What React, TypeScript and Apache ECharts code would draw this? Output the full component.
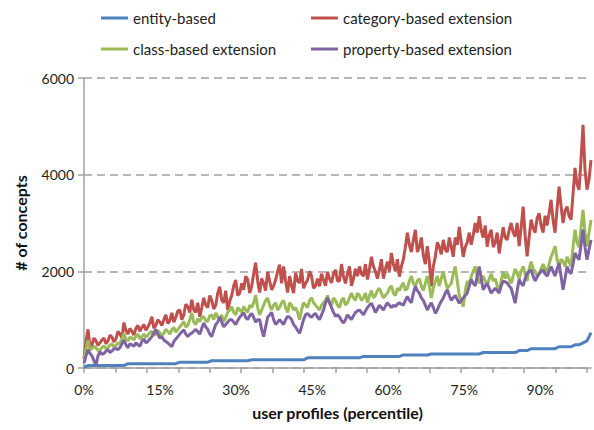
import React, { useEffect, useRef } from "react";
import * as echarts from "echarts";

const seriesNames = [
  "entity-based",
  "category-based extension",
  "class-based extension",
  "property-based extension",
];
const colors = ["#4F81BD", "#C0504D", "#9BBB59", "#8064A2"];

const xLabelValues = [0, 15, 30, 45, 60, 75, 90];
const xTickValues = [0, 6.2, 12.4, 18.6, 24.8, 31, 37.2, 43.4, 49.6, 55.8, 62, 68.2, 74.4, 80.6, 86.8, 93, 99.2];

const entityBased = [
  20, 50, 50, 50, 50, 50, 50, 50, 50, 50,
  50, 90, 90, 90, 90, 90, 90, 90, 90, 90,
  90, 90, 90, 90, 120, 120, 120, 120, 120, 120,
  120, 120, 150, 150, 150, 150, 150, 150, 150, 150,
  150, 150, 170, 170, 170, 170, 170, 170, 170, 170,
  170, 170, 170, 170, 170, 170, 210, 210, 210, 210,
  210, 210, 210, 210, 210, 210, 210, 210, 210, 210,
  240, 240, 240, 240, 240, 240, 240, 240, 240, 240,
  270, 270, 270, 270, 270, 270, 270, 290, 290, 290,
  290, 290, 290, 290, 290, 290, 290, 290, 290, 290,
  320, 320, 320, 320, 320, 320, 320, 320, 320, 360,
  360, 360, 400, 400, 400, 400, 400, 400, 400, 440,
  440, 440, 440, 480, 480, 520, 560, 730,
];

const categoryBased = [
  200, 550, 800, 450, 480, 620, 560, 470, 520, 580, 620, 500, 560, 680, 640, 540, 600, 760, 700, 620,
  940, 780, 700, 820, 760, 680, 820, 880, 760, 840, 900, 780, 850, 930, 1060, 820, 880, 1000, 950, 880,
  1000, 1100, 920, 980, 1140, 950, 1050, 1180, 1200, 1000, 1100, 1320, 1270, 1150, 1410, 1200, 1150, 1350, 1060, 1250,
  1450, 1300, 1250, 1500, 1400, 1220, 1300, 1550, 1680, 1400, 1350, 1600, 1200, 1380, 1500, 1700, 1820, 1500, 1550, 1750,
  1620, 1900, 1830, 1550, 1690, 1950, 2180, 1800, 1560, 1850, 1750, 1600, 1990, 1800, 1620, 1700, 1820, 2000, 2140, 1750,
  2100, 1800, 1560, 1900, 1700, 1550, 1970, 1800, 1760, 2050, 1650, 1750, 1820, 2000, 1900, 1650, 1700, 1850, 1690, 1950,
  1820, 1700, 1990, 1850, 1760, 1950, 2030, 1800, 1800, 2150, 1890, 1750, 1950, 2100, 1700, 1850, 2050, 1900, 2100, 1950,
  1900, 2150, 1830, 2050, 2300, 2100, 2000, 1850, 2030, 2250, 1850, 2050, 2200, 2000, 2380, 2150, 2000, 2250, 1890, 2100,
  2250, 2500, 2800, 2550, 2400, 2650, 2860, 2400, 2500, 2700, 2330, 2150, 2520, 2200, 1690, 2100, 2300, 2600, 2500, 2350,
  2650, 2450, 2400, 2700, 2510, 2300, 2700, 2550, 2920, 2600, 2300, 2500, 2600, 2800, 2550, 2750, 3000, 2800, 3140, 2850,
  2700, 2950, 2510, 2750, 2860, 2500, 2600, 2800, 2370, 2650, 2910, 2700, 2650, 2850, 3000, 2800, 2720, 3000, 2520, 2900,
  3340, 2750, 2310, 2700, 3070, 2900, 2800, 3100, 3200, 2950, 2800, 3150, 2950, 3200, 3480, 3050, 2800, 3300, 3750, 3350,
  3000, 3250, 3340, 3150, 3070, 3600, 4140, 3800, 3690, 4300, 5030, 4100, 3690, 3900, 4300,
];

const classBased = [
  200, 400, 580, 380, 400, 450, 420, 360, 380, 420, 460, 400, 420, 470, 500, 440, 460, 520, 500, 600,
  720, 600, 560, 640, 620, 580, 660, 700, 600, 650, 700, 640, 680, 730, 760, 680, 700, 780, 720, 680,
  720, 800, 760, 700, 790, 840, 740, 800, 850, 900, 960, 850, 880, 1000, 1140, 950, 900, 1020, 960, 1050,
  1060, 980, 960, 1080, 1100, 1000, 1140, 1050, 1000, 1100, 960, 1050, 1150, 1200, 1270, 1150, 1100, 1250, 1200, 1150,
  1270, 1200, 1150, 1300, 1250, 1350, 1510, 1250, 1100, 1200, 1300, 1400, 1450, 1300, 1200, 1300, 1350, 1200, 1250, 1350,
  1400, 1250, 1150, 1350, 1300, 1200, 1250, 1150, 1000, 1200, 1350, 1300, 1250, 1400, 1450, 1350, 1300, 1250, 1200, 1300,
  1350, 1400, 1500, 1350, 1300, 1450, 1400, 1300, 1250, 1400, 1450, 1300, 1350, 1450, 1550, 1450, 1400, 1550, 1500, 1400,
  1450, 1550, 1350, 1500, 1600, 1450, 1500, 1600, 1650, 1550, 1450, 1500, 1550, 1650, 1700, 1550, 1500, 1650, 1600, 1700,
  1760, 1600, 1650, 1800, 1900, 1750, 1700, 1800, 1850, 1700, 1600, 1750, 1900, 1700, 1450, 1650, 1800, 1900, 1700, 1850,
  2000, 1800, 1650, 1700, 1750, 1950, 2100, 1800, 1500, 1400, 1270, 1600, 1800, 1700, 1900, 2000, 2100, 1900, 1750, 1850,
  1900, 1800, 1700, 1850, 1950, 1800, 1850, 1700, 1600, 1800, 2000, 1850, 1960, 1850, 1750, 1900, 2050, 1950, 1850, 2000,
  2100, 1950, 1800, 2050, 2200, 2050, 2000, 1900, 1950, 2050, 2150, 2050, 2000, 2150, 2300, 2400, 2520, 2250, 2100, 2250,
  2200, 2100, 2300, 2200, 2100, 2500, 2860, 2600, 2500, 2900, 3270, 2800, 2520, 2800, 3060,
];

const propertyBased = [
  100, 250, 380, 300, 250, 150, 60, 250, 340, 280, 300, 350, 380, 320, 350, 400, 400, 380, 420, 500,
  580, 480, 420, 500, 480, 450, 520, 480, 450, 550, 600, 520, 550, 600, 650, 720, 800, 700, 620, 650,
  580, 550, 520, 480, 440, 550, 600, 650, 700, 750, 790, 700, 650, 700, 720, 760, 800, 750, 700, 820,
  930, 850, 800, 700, 650, 780, 900, 950, 1060, 950, 850, 900, 950, 1000, 1000, 950, 900, 980, 1050, 1100,
  1140, 1050, 1000, 1080, 1130, 1050, 950, 1000, 1000, 800, 650, 850, 1050, 1100, 1150, 1000, 900, 950, 1000, 950,
  900, 1000, 1070, 1050, 1000, 900, 850, 780, 720, 850, 1000, 1100, 1130, 1080, 1050, 1100, 1130, 1050, 1000, 1100,
  1200, 1350, 1450, 1350, 1250, 1150, 1070, 1100, 1060, 980, 930, 1000, 1100, 1050, 1000, 1080, 1150, 1180, 1200, 1150,
  1100, 1180, 1250, 1300, 1340, 1250, 1150, 1220, 1300, 1250, 1200, 1280, 1350, 1300, 1250, 1300, 1270, 1320, 1350, 1320,
  1300, 1400, 1480, 1400, 1350, 1550, 1690, 1600, 1550, 1450, 1400, 1300, 1200, 1280, 1350, 1250, 1130, 1200, 1300, 1380,
  1450, 1550, 1620, 1500, 1400, 1450, 1500, 1420, 1340, 1400, 1450, 1500, 1550, 1700, 1830, 1750, 1700, 1900, 2100, 1850,
  1620, 1700, 1750, 1650, 1550, 1600, 1650, 1600, 1550, 1700, 1800, 1780, 1760, 1700, 1650, 1500, 1340, 1600, 1830, 1750,
  1700, 1850, 1950, 2000, 2030, 1900, 1800, 1880, 1950, 2000, 2030, 1950, 1900, 2000, 2100, 2000, 1900, 2050, 2170, 1900,
  1620, 1850, 2100, 2000, 1950, 2150, 2380, 2300, 2240, 2550, 2860, 2500, 2240, 2450, 2650,
];

const allSeries = [entityBased, categoryBased, classBased, propertyBased];
const percentilesOf = (arr: number[]) => arr.map((_, i) => (i * 100) / (arr.length - 1));

const FONT = "Lato, 'Open Sans', sans-serif";

export default function App() {
  const ref = useRef<HTMLDivElement>(null);
  useEffect(() => {
    if (!ref.current) return;
    const chart = echarts.init(ref.current, undefined, { renderer: "svg" });
    const legendText = { fontFamily: FONT, fontSize: 15, color: "#222", lineHeight: 20 };
    const legendBase = {
      top: 3,
      orient: "vertical",
      itemGap: 11,
      itemWidth: 27,
      itemHeight: 3,
      icon: "rect",
      textStyle: legendText,
    };
    chart.setOption({
      animation: false,
      textStyle: { fontFamily: FONT },
      legend: [
        { ...legendBase, left: 96, data: [seriesNames[0], seriesNames[2]] },
        { ...legendBase, left: 306, data: [seriesNames[1], seriesNames[3]] },
      ],
      grid: { left: 84, right: 3, top: 78, bottom: 62, containLabel: false },
      xAxis: {
        type: "value",
        min: 0,
        max: 100,
        name: "user profiles (percentile)",
        nameLocation: "middle",
        nameGap: 36,
        nameTextStyle: { fontFamily: FONT, fontSize: 16, fontWeight: "bold", color: "#111" },
        axisLine: { show: true, lineStyle: { color: "#A0A0A0", width: 1.5 } },
        axisTick: { show: true, length: 5, customValues: xTickValues, lineStyle: { color: "#A0A0A0", width: 1.5 } },
        axisLabel: {
          customValues: xLabelValues,
          formatter: (v: number) => `${v}%`,
          fontFamily: FONT,
          fontSize: 14,
          color: "#222",
          margin: 14,
        },
        splitLine: { show: false },
      },
      yAxis: {
        type: "value",
        min: 0,
        max: 6000,
        interval: 2000,
        name: "# of concepts",
        nameLocation: "middle",
        nameGap: 56,
        nameRotate: 90,
        nameTextStyle: { fontFamily: FONT, fontSize: 16, fontWeight: "bold", color: "#111" },
        axisLine: { show: true, lineStyle: { color: "#A0A0A0", width: 1.5 } },
        axisTick: { show: true, length: 6, lineStyle: { color: "#A0A0A0", width: 1.5 } },
        axisLabel: { fontFamily: FONT, fontSize: 14, color: "#222", margin: 10, formatter: (v: number) => String(v) },
        splitLine: { show: true, lineStyle: { color: "#A0A0A0", width: 1.5, type: [8, 5] } },
      },
      series: allSeries.map((vals, k) => {
        const xs = percentilesOf(vals);
        return {
          name: seriesNames[k],
          type: "line",
          showSymbol: false,
          symbol: "none",
          color: colors[k],
          lineStyle: { width: 3, color: colors[k] },
          data: vals.map((v, i) => [xs[i], v]),
        };
      }),
    });
    return () => chart.dispose();
  }, []);
  return (
    <div
      ref={ref}
      style={{ position: "fixed", left: 0, top: 0, width: 594, height: 430, background: "#fff" }}
    />
  );
}
